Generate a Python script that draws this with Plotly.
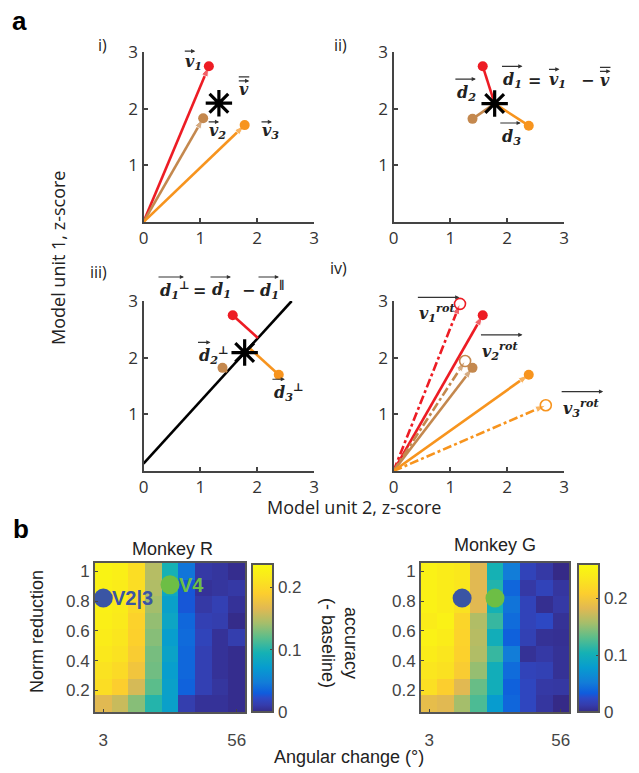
import numpy as np
import plotly.graph_objects as go

W, H = 639, 773
def px(x): return x / W
def py(y): return 1 - y / H

# ---------------- panel a data ----------------
vec_x_i = [1.15, 1.05, 1.78]     # panel i vectors (unit 2)
vec_y_i = [2.75, 1.83, 1.71]     # panel i vectors (unit 1)
vec_x = [1.57, 1.39, 2.38]       # panels ii-iv vectors
vec_y = [2.75, 1.82, 1.70]
rot_x = [1.17, 1.26, 2.68]       # rotated vectors (panel iv)
rot_y = [2.95, 1.94, 1.16]
diag_slope = 1.1                 # direction of the mean-vector axis in panel iii
vec_colors = ['#ED1C24', '#C4884E', '#F7941E']

# ---------------- panel b data ----------------
angle_ticks = ['3', '56']
angle_idx = list(range(9))
norm_vals = [0.111, 0.222, 0.333, 0.444, 0.556, 0.667, 0.778, 0.889, 1.0]
acc_R = [
    [.166, .156, .133, .100, .076, .012, .005, .005, .002],
    [.204, .190, .161, .119, .076, .033, .014, .007, .002],
    [.209, .201, .180, .126, .073, .036, .014, .005, .002],
    [.216, .209, .187, .128, .078, .036, .014, .005, .002],
    [.220, .213, .192, .133, .073, .038, .017, .005, .012],
    [.223, .218, .194, .137, .081, .036, .014, .012, .001],
    [.225, .220, .199, .142, .076, .028, .009, .014, .005],
    [.225, .220, .204, .147, .083, .028, .005, .007, .009],
    [.228, .223, .204, .149, .095, .043, .009, .007, .002],
]
acc_G = [
    [.187, .182, .156, .125, .078, .039, .021, .008, .000],
    [.226, .208, .182, .135, .099, .036, .021, .010, .009],
    [.234, .229, .205, .151, .099, .042, .018, .016, .005],
    [.242, .234, .211, .161, .117, .052, .005, .010, .005],
    [.247, .242, .213, .164, .099, .036, .016, .005, .004],
    [.242, .247, .216, .161, .117, .042, .018, .023, .005],
    [.247, .242, .229, .182, .104, .047, .018, .003, .010],
    [.247, .242, .234, .182, .109, .039, .010, .018, .008],
    [.247, .242, .237, .182, .104, .052, .018, .010, .000],
]
zmax_R, zmax_G = 0.237, 0.26
area_marks_R = {'V2|3': (0, 0.82), 'V4': (4, 0.91)}
area_marks_G = {'V2|3': (2, 0.82), 'V4': (4, 0.82)}
area_colors = {'V2|3': '#3A55A4', 'V4': '#6DBE45'}

parula = [[0, 'rgb(53,42,135)'], [0.048, 'rgb(53,61,173)'], [0.095, 'rgb(44,74,199)'],
          [0.127, 'rgb(15,92,221)'], [0.2, 'rgb(18,125,216)'], [0.3, 'rgb(7,156,207)'],
          [0.4, 'rgb(21,177,180)'], [0.5, 'rgb(89,189,140)'], [0.6, 'rgb(165,190,107)'],
          [0.7, 'rgb(225,185,82)'], [0.8, 'rgb(252,206,46)'], [0.9, 'rgb(250,230,30)'],
          [1, 'rgb(249,251,14)']]

SANS_A = 'Open Sans'
SANS_B = 'Liberation Sans'
MATH = 'DejaVu Serif'
AX = '#444'
TXT = '#222'

fig = go.Figure()

def vec(x0, y0, x1, y1, color, xa, ya, dash='solid', head=True):
    fig.add_trace(go.Scatter(
        x=[x0, x1], y=[y0, y1], xaxis=xa, yaxis=ya,
        mode='lines+markers' if head else 'lines',
        line=dict(color=color, width=2.6, dash=dash),
        marker=dict(symbol=['circle', 'arrow'], size=[0, 11], angleref='previous', color=color),
        showlegend=False, hoverinfo='skip', cliponaxis=False))

def dots(xs, ys, colors, xa, ya, symbol='circle', size=10):
    fig.add_trace(go.Scatter(
        x=xs, y=ys, xaxis=xa, yaxis=ya, mode='markers',
        marker=dict(symbol=symbol, size=size, color=colors,
                    line=dict(width=1.6 if 'open' in symbol else 0, color=colors)),
        showlegend=False, hoverinfo='skip', cliponaxis=False))

def star(x, y, xa, ya):
    fig.add_trace(go.Scatter(
        x=[x], y=[y], xaxis=xa, yaxis=ya, mode='markers',
        marker=dict(symbol='asterisk-open', size=22, color='black',
                    line=dict(width=3.2, color='black')),
        showlegend=False, hoverinfo='skip', cliponaxis=False))

# panel i
for k in range(3):
    vec(0, 0, vec_x_i[k], vec_y_i[k], vec_colors[k], 'x', 'y')
dots(vec_x_i, vec_y_i, vec_colors, 'x', 'y')
star(np.mean(vec_x_i), np.mean(vec_y_i), 'x', 'y')

# panel ii
mx, my = np.mean(vec_x), np.mean(vec_y)
for k in range(3):
    vec(mx, my, vec_x[k], vec_y[k], vec_colors[k], 'x2', 'y2', head=False)
dots(vec_x, vec_y, vec_colors, 'x2', 'y2')
star(mx, my, 'x2', 'y2')

# panel iii
u = np.array([1.0, diag_slope]); u = u / np.linalg.norm(u)
b0 = my - diag_slope * mx
x_top = (3 - b0) / diag_slope
fig.add_trace(go.Scatter(x=[0, x_top], y=[b0, 3], xaxis='x3', yaxis='y3', mode='lines',
                         line=dict(color='black', width=2.6), showlegend=False, hoverinfo='skip'))
for k in range(3):
    r = np.array([vec_x[k], vec_y[k] - b0])
    t = r @ u
    fx, fy = t * u[0], b0 + t * u[1]
    vec(vec_x[k], vec_y[k], fx, fy, vec_colors[k], 'x3', 'y3', head=False)
dots(vec_x, vec_y, vec_colors, 'x3', 'y3')
star(mx, my, 'x3', 'y3')

# panel iv
for k in range(3):
    vec(0, 0, rot_x[k], rot_y[k], vec_colors[k], 'x4', 'y4', dash='dashdot')
    vec(0, 0, vec_x[k], vec_y[k], vec_colors[k], 'x4', 'y4')
dots(vec_x, vec_y, vec_colors, 'x4', 'y4')
dots(rot_x, rot_y, vec_colors, 'x4', 'y4', symbol='circle-open', size=11)

# panel b heatmaps
def cbar(xleft):
    return dict(x=px(xleft), xanchor='left', y=py(712), yanchor='bottom',
                len=148 / H, lenmode='fraction', thickness=21, thicknessmode='pixels',
                outlinewidth=2, outlinecolor='#555', tickvals=[0, 0.1, 0.2],
                ticktext=['0', '0.1', '0.2'], ticks='inside', ticklen=4, tickcolor='#444',
                tickfont=dict(family=SANS_B, size=17, color='#444'), xpad=0, ypad=0)

fig.add_trace(go.Heatmap(z=acc_R, x=angle_idx, y=norm_vals, colorscale=parula, zmin=0, zmax=zmax_R,
                         xaxis='x5', yaxis='y5', colorbar=cbar(252), hoverinfo='skip'))
fig.add_trace(go.Heatmap(z=acc_G, x=angle_idx, y=norm_vals, colorscale=parula, zmin=0, zmax=zmax_G,
                         xaxis='x6', yaxis='y6', colorbar=cbar(578), hoverinfo='skip'))

annotations = []
for marks, xa, ya, show_text in [(area_marks_R, 'x5', 'y5', True), (area_marks_G, 'x6', 'y6', False)]:
    for name, (cx, cy) in marks.items():
        fig.add_trace(go.Scatter(x=[cx], y=[cy], xaxis=xa, yaxis=ya, mode='markers',
                                 marker=dict(size=19, color=area_colors[name]),
                                 showlegend=False, hoverinfo='skip', cliponaxis=False))
        if show_text:
            annotations.append(dict(x=cx, y=cy, xref=xa, yref=ya, text='<b>%s</b>' % name,
                                    showarrow=False, xanchor='left', yanchor='middle', xshift=7,
                                    font=dict(family=SANS_B, size=20, color=area_colors[name])))

# ---------------- axes ----------------
def a_axes(xd, yd, anchor_x, anchor_y):
    common = dict(range=[0, 3], showline=True, linecolor=AX, linewidth=2, ticks='inside',
                  ticklen=4, tickwidth=1.5, tickcolor=AX, showgrid=False, zeroline=False,
                  tickfont=dict(family=SANS_A, size=17, color='#333'))
    xa = dict(common, domain=[px(xd[0]), px(xd[1])], anchor=anchor_y, tickvals=[0, 1, 2, 3])
    ya = dict(common, domain=[py(yd[1]), py(yd[0])], anchor=anchor_x, tickvals=[1, 2, 3])
    return xa, ya

xa1, ya1 = a_axes((143.5, 314), (52, 222), 'x', 'y')
xa2, ya2 = a_axes((393.5, 564), (52, 222), 'x2', 'y2')
xa3, ya3 = a_axes((143.5, 314), (301, 471), 'x3', 'y3')
xa4, ya4 = a_axes((393.5, 564), (301, 471), 'x4', 'y4')

def b_axes(xd, anchor_x, anchor_y):
    common = dict(showline=True, mirror=True, linecolor='#555', linewidth=2, ticks='inside',
                  ticklen=3, tickcolor='#444', showgrid=False, zeroline=False,
                  tickfont=dict(family=SANS_B, size=17, color='#444'))
    xa = dict(common, domain=[px(xd[0]), px(xd[1])], anchor=anchor_y, range=[-0.5, 8.5],
              tickvals=[0, 8], ticktext=angle_ticks, ticklabelstandoff=12)
    ya = dict(common, domain=[py(712), py(563)], anchor=anchor_x, range=[0.0556, 1.0556],
              tickvals=[0.2, 0.4, 0.6, 0.8, 1.0], ticktext=['0.2', '0.4', '0.6', '0.8', '1'])
    return xa, ya

xa5, ya5 = b_axes((95, 245), 'x5', 'y5')
xa6, ya6 = b_axes((421, 569), 'x6', 'y6')

# ---------------- text ----------------
def paper_text(x, y, text, size, family=SANS_A, color=TXT, angle=0):
    annotations.append(dict(x=px(x), y=py(y), xref='paper', yref='paper', text=text,
                            showarrow=False, textangle=angle, xanchor='center', yanchor='middle',
                            font=dict(family=family, size=size, color=color)))

def over(x, y, xr, yr, dx, length, dy, head=True):
    """thin arrow (or bar) drawn above a math symbol, offsets in pixels"""
    annotations.append(dict(x=x, y=y, xref=xr, yref=yr, text=' ', showarrow=True,
                            ax=-length, ay=0, xshift=dx + length, yshift=dy,
                            arrowhead=2 if head else 0, arrowsize=0.7, arrowwidth=1.2,
                            arrowcolor='#333', standoff=0, startstandoff=0,
                            font=dict(size=1), borderpad=0))

def piece(x, y, xr, yr, dx, text, arrow=None, bar=None, size=16):
    annotations.append(dict(x=x, y=y, xref=xr, yref=yr, text='<b><i>%s</i></b>' % text,
                            showarrow=False, xanchor='left', yanchor='middle', xshift=dx,
                            font=dict(family=MATH, size=size, color=TXT)))
    if arrow is not None:
        over(x, y, xr, yr, dx + arrow[0], arrow[1], arrow[2])
    if bar is not None:
        over(x, y, xr, yr, dx + bar[0], bar[1], bar[2], head=False)

# panel i
piece(0.70, 2.82, 'x', 'y', 0, 'v<sub>1</sub>', arrow=(1, 11, 11))
piece(1.65, 2.33, 'x', 'y', 0, 'v', arrow=(1, 11, 9), bar=(1, 11, 13))
piece(1.12, 1.59, 'x', 'y', 0, 'v<sub>2</sub>', arrow=(1, 11, 10))
piece(2.05, 1.59, 'x', 'y', 0, 'v<sub>3</sub>', arrow=(1, 11, 10))

# panel ii
piece(1.90, 2.50, 'x2', 'y2', 0, 'd<sub>1</sub>', arrow=(0, 21, 14))
piece(1.90, 2.50, 'x2', 'y2', 25, '=')
piece(1.90, 2.50, 'x2', 'y2', 46, 'v<sub>1</sub>', arrow=(1, 11, 11))
piece(1.90, 2.50, 'x2', 'y2', 78, '\u2212')
piece(1.90, 2.50, 'x2', 'y2', 97, 'v', arrow=(1, 11, 9), bar=(1, 11, 13))
piece(1.08, 2.275, 'x2', 'y2', 0, 'd<sub>2</sub>', arrow=(0, 21, 14))
piece(1.87, 1.50, 'x2', 'y2', 0, 'd<sub>3</sub>', arrow=(0, 21, 14))

# panel iii (equation sits above the axes, so it is placed in paper coordinates)
eq_x, eq_y = px(158), py(290)
piece(eq_x, eq_y, 'paper', 'paper', 0, 'd<sub>1</sub><sup>\u22a5</sup>', arrow=(0, 26, 13))
piece(eq_x, eq_y, 'paper', 'paper', 33, '=')
piece(eq_x, eq_y, 'paper', 'paper', 52, 'd<sub>1</sub>', arrow=(0, 21, 13))
piece(eq_x, eq_y, 'paper', 'paper', 82, '\u2212')
piece(eq_x, eq_y, 'paper', 'paper', 100, 'd<sub>1</sub><sup>\u2225</sup>', arrow=(0, 21, 13))
piece(0.95, 2.04, 'x3', 'y3', 0, 'd<sub>2</sub><sup>\u22a5</sup>', arrow=(0, 13, 13))
piece(2.26, 1.39, 'x3', 'y3', 0, 'd<sub>3</sub><sup>\u22a5</sup>', arrow=(0, 13, 13))

# panel iv
piece(0.42, 2.78, 'x4', 'y4', 0, 'v<sub>1</sub><sup>rot</sup>', arrow=(0, 42, 16))
piece(1.53, 2.12, 'x4', 'y4', 0, 'v<sub>2</sub><sup>rot</sup>', arrow=(0, 42, 16))
piece(2.95, 1.12, 'x4', 'y4', 0, 'v<sub>3</sub><sup>rot</sup>', arrow=(0, 42, 16))

paper_text(19, 21, '<b>a</b>', 26, family=SANS_B, color='black')
paper_text(21, 529, '<b>b</b>', 26, family=SANS_B, color='black')
paper_text(102, 45, 'i)', 16)
paper_text(340, 45, 'ii)', 16)
paper_text(98, 272, 'iii)', 16)
paper_text(338, 268, 'iv)', 16)
paper_text(58, 258, 'Model unit 1, z-score', 18, angle=-90)
paper_text(354, 507, 'Model unit 2, z-score', 18)

paper_text(172, 549, 'Monkey R', 18, family=SANS_B)
paper_text(495, 545, 'Monkey G', 18, family=SANS_B)
paper_text(37, 632, 'Norm reduction', 18, family=SANS_B, angle=-90)
paper_text(349, 757, 'Angular change (\u00b0)', 18, family=SANS_B)
paper_text(340, 643, 'accuracy<br>(- baseline)', 18, family=SANS_B, angle=90)

fig.update_layout(
    width=W, height=H, margin=dict(l=0, r=0, t=0, b=0, autoexpand=False),
    plot_bgcolor='white', paper_bgcolor='white', showlegend=False,
    xaxis=xa1, yaxis=ya1, xaxis2=xa2, yaxis2=ya2, xaxis3=xa3, yaxis3=ya3,
    xaxis4=xa4, yaxis4=ya4, xaxis5=xa5, yaxis5=ya5, xaxis6=xa6, yaxis6=ya6,
    annotations=annotations,
)

fig.write_html('out.html', config={'displayModeBar': False},
               post_script="document.body.style.margin='0';")
